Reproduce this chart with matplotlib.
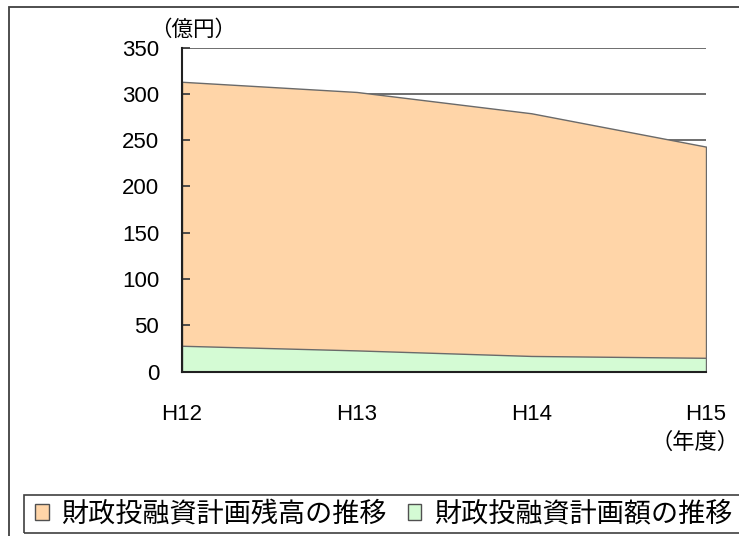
import matplotlib
matplotlib.use("Agg")
import matplotlib.pyplot as plt
from matplotlib.patches import Patch, Rectangle

plt.rcParams['font.family'] = ['Liberation Sans', 'Noto Sans CJK JP', 'DejaVu Sans']

# 財政投融資計画の推移（億円）
years = ["H12", "H13", "H14", "H15"]
balance = [313, 302, 279, 243]      # 財政投融資計画残高
amount = [28, 23, 17, 15]           # 財政投融資計画額
yticks = [0, 50, 100, 150, 200, 250, 300, 350]

W, H = 739, 536
fig = plt.figure(figsize=(W / 100, H / 100), dpi=100)

# outer frame of the chart area
fig.patches.append(Rectangle((9 / W, -0.05), 1.1, 1 - 7 / H + 0.05,
                             transform=fig.transFigure, fill=False,
                             edgecolor='#404040', linewidth=1.3))

ax = fig.add_axes([182 / W, (H - 371.7) / H, (706 - 182) / W, (371.7 - 47.5) / H])
x = list(range(len(years)))

for yv in yticks[1:]:
    ax.axhline(yv, color='#6e6e6e', linewidth=1.4, zorder=0)

orange = '#ffd5a8'
green = '#d4fbd4'
ax.fill_between(x, 0, balance, facecolor=orange, edgecolor='#6a6a6a',
                linewidth=1.0, zorder=1)
ax.fill_between(x, 0, amount, facecolor=green, edgecolor='#6a6a6a',
                linewidth=1.0, zorder=2)

ax.set_xlim(0, len(years) - 1)
ax.set_ylim(0, 350)
ax.set_xticks(x)
ax.set_xticklabels(years)
ax.set_yticks(yticks)
for s in ['top', 'right']:
    ax.spines[s].set_visible(False)
for s in ['left', 'bottom']:
    ax.spines[s].set_linewidth(1.5)
    ax.spines[s].set_color('#202020')
    ax.spines[s].set_zorder(3)
ax.tick_params(axis='y', direction='in', length=6, width=1.3, color='#404040',
               labelsize=16, pad=16.5)
ax.tick_params(axis='x', direction='in', length=7, width=1.3, color='#202020',
               labelsize=16, pad=23)
ax.set_facecolor('none')

cjk = ['Noto Sans CJK JP', 'DejaVu Sans']
fig.text(193 / W, 1 - 30 / H, '（億円）', family=cjk, fontsize=15.5,
         ha='center', va='center')
fig.text(739 / W, 1 - 442 / H, '（年度）', family=cjk, fontsize=16,
         ha='right', va='center')

# legend box
fig.patches.append(Rectangle((24 / W, 1 - 533 / H), 1.0, (533 - 494.7) / H,
                             transform=fig.transFigure, fill=False,
                             edgecolor='#404040', linewidth=1.2))
handles = [Patch(facecolor=orange, edgecolor='#505050', linewidth=1.0),
           Patch(facecolor=green, edgecolor='#505050', linewidth=1.0)]
labels = ['財政投融資計画残高の推移', '財政投融資計画額の推移']
fig.legend(handles, labels, loc='center left',
           bbox_to_anchor=(35 / W, 1 - 514 / H), ncol=2, frameon=False,
           borderpad=0, borderaxespad=0, handlelength=0.5, handleheight=0.5,
           handletextpad=0.45, columnspacing=0.8,
           prop={'family': cjk, 'size': 19.5})

fig.savefig('out.png', dpi=100)
